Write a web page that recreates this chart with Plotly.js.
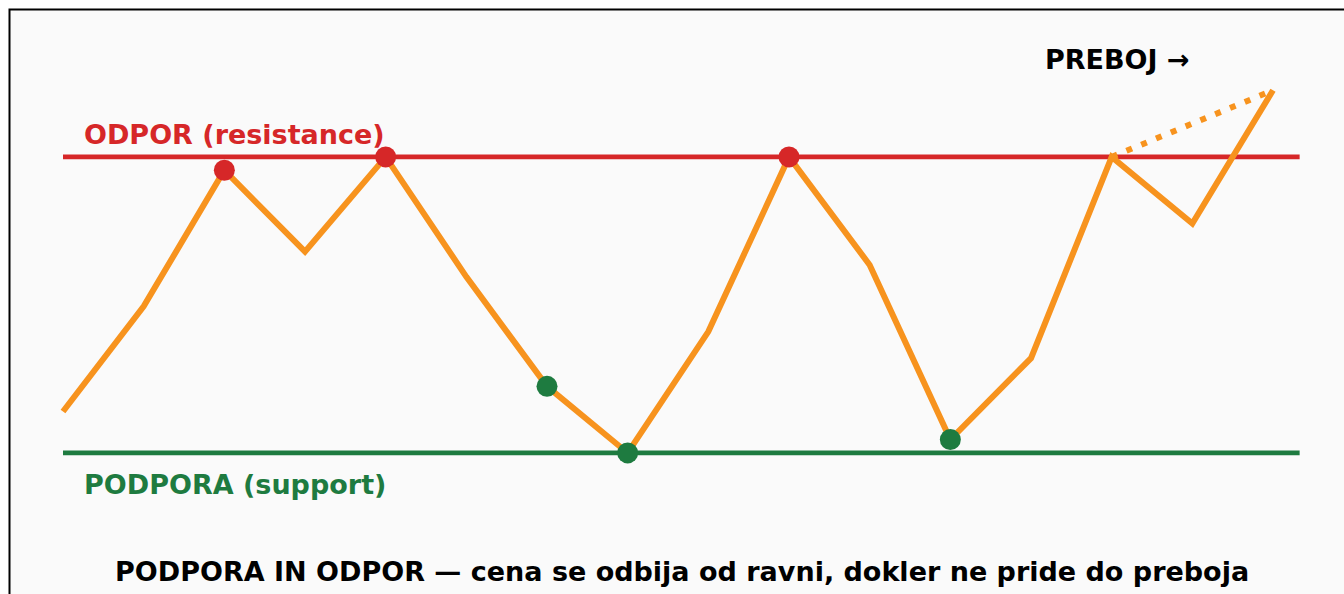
<!DOCTYPE html>
<html><head><meta charset="utf-8">
<script src="https://cdn.plot.ly/plotly-3.0.1.min.js"></script>
<style>html,body{margin:0;padding:0;background:#fff;}#chart{width:1344px;height:594px;}</style>
</head><body><div id="chart"></div>
<script>
// Price path (index 0..15)
const steps = [0,1,2,3,4,5,6,7,8,9,10,11,12,13,14,15];
const price = [102.8,109.9,119.1,113.6,120,111.9,104.5,100,108.2,120,112.7,100.9,106.4,120,115.5,124.5];
const resistanceLevel = 120;
const supportLevel = 100;
const resistanceTouches = [2,4,9];
const supportTouches = [6,7,11];
const breakoutFrom = 13;
const breakoutTo = 15;
const levelStart = 0;
const levelEnd = 15.33;

const ORANGE = '#f7931e', RED = '#d62728', GREEN = '#1e7b40';
const F = 'DejaVu Sans, Verdana, sans-serif';

const traces = [
  {x:[levelStart,levelEnd], y:[resistanceLevel,resistanceLevel], mode:'lines', line:{color:RED,width:4.7}, hoverinfo:'skip'},
  {x:[levelStart,levelEnd], y:[supportLevel,supportLevel], mode:'lines', line:{color:GREEN,width:4.7}, hoverinfo:'skip'},
  {x:[steps[breakoutFrom],steps[breakoutTo]], y:[price[breakoutFrom],price[breakoutTo]], mode:'lines', line:{color:ORANGE,width:6,dash:'6px,10px'}, hoverinfo:'skip'},
  {x:steps, y:price, mode:'lines', line:{color:ORANGE,width:6}, hoverinfo:'skip'},
  {x:resistanceTouches.map(i=>steps[i]), y:resistanceTouches.map(i=>price[i]), mode:'markers', marker:{color:RED,size:21}, hoverinfo:'skip'},
  {x:supportTouches.map(i=>steps[i]), y:supportTouches.map(i=>price[i]), mode:'markers', marker:{color:GREEN,size:21}, hoverinfo:'skip'}
];

const layout = {
  width:1344, height:594,
  margin:{l:0,r:0,t:0,b:0},
  paper_bgcolor:'#ffffff', plot_bgcolor:'rgba(0,0,0,0)',
  showlegend:false,
  xaxis:{range:[-0.781,15.88], visible:false, fixedrange:true},
  yaxis:{range:[90.47,130.6], visible:false, fixedrange:true},
  shapes:[
    {type:'rect', xref:'paper', yref:'paper', x0:9.5/1344, x1:1.05, y0:-0.05, y1:1-9.5/594,
     fillcolor:'#fafafa', line:{color:'#000',width:2}, layer:'below'}
  ],
  annotations:[
    {x:0.235, y:121.5, xanchor:'left', yanchor:'middle', text:'ODPOR (resistance)', showarrow:false,
     font:{family:F,size:27,color:RED,weight:'bold'}},
    {x:0.235, y:97.84, xanchor:'left', yanchor:'middle', text:'PODPORA (support)', showarrow:false,
     font:{family:F,size:27,color:GREEN,weight:'bold'}},
    {x:12.15, y:126.55, xanchor:'left', yanchor:'middle', text:'PREBOJ →', showarrow:false,
     font:{family:F,size:27,color:'#000',weight:'bold'}},
    {x:7.67, y:91.96, xanchor:'center', yanchor:'middle', text:'PODPORA IN ODPOR — cena se odbija od ravni, dokler ne pride do preboja', showarrow:false,
     font:{family:F,size:27,color:'#000',weight:'bold'}}
  ]
};
Plotly.newPlot('chart', traces, layout, {staticPlot:true, displayModeBar:false});
</script></body></html>
